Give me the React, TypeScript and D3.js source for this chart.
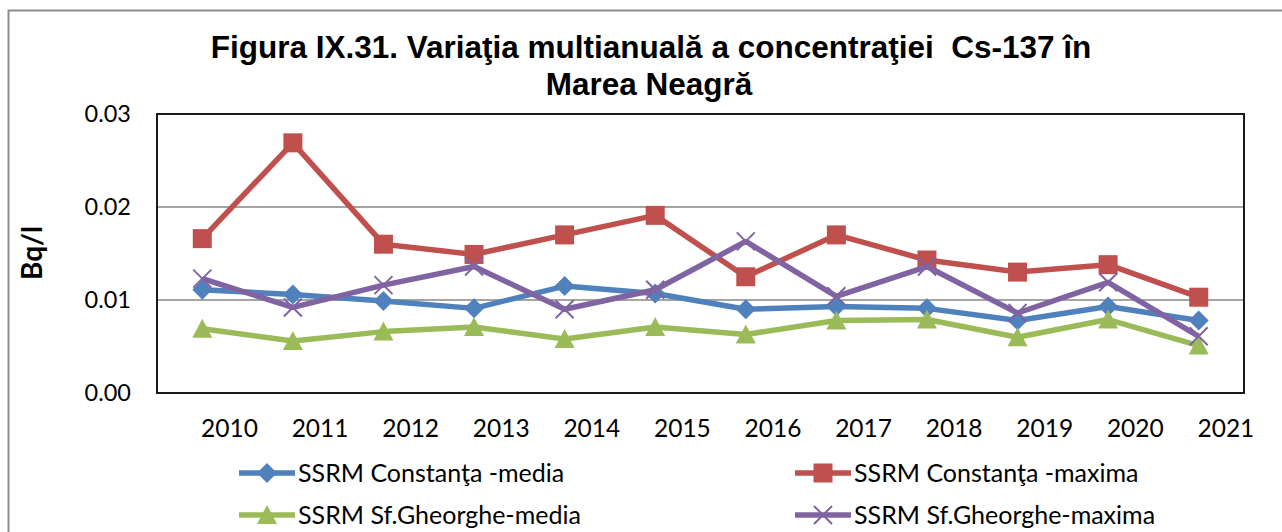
import React, { useRef, useEffect } from 'react';
import * as d3 from 'd3';

// ── Data ──────────────────────────────────────────────────────────────────────
const YEARS = ['2010', '2011', '2012', '2013', '2014', '2015', '2016', '2017', '2018', '2019', '2020', '2021'];

const constantaMedia = [0.0111, 0.0106, 0.0099, 0.0091, 0.0115, 0.0107, 0.0090, 0.0093, 0.0091, 0.0078, 0.0093, 0.0078];
const constantaMaxima = [0.0166, 0.0269, 0.0160, 0.0149, 0.0170, 0.0191, 0.0125, 0.0170, 0.0143, 0.0130, 0.0138, 0.0103];
const sfGheorgheMedia = [0.0069, 0.0056, 0.0066, 0.0071, 0.0058, 0.0071, 0.0063, 0.0078, 0.0079, 0.0060, 0.0079, 0.0051];
const sfGheorgheMaxima = [0.0123, 0.0092, 0.0116, 0.0136, 0.0090, 0.0111, 0.0163, 0.0104, 0.0136, 0.0086, 0.0119, 0.0061];

const Y_TICKS = [0, 0.01, 0.02, 0.03];

type Marker = 'diamond' | 'square' | 'triangle' | 'x';

interface Series {
  name: string;
  values: number[];
  color: string;
  marker: Marker;
}

const SERIES: Series[] = [
  { name: 'SSRM Constanţa -media', values: constantaMedia, color: '#4F81BD', marker: 'diamond' },
  { name: 'SSRM Constanţa -maxima', values: constantaMaxima, color: '#C0504D', marker: 'square' },
  { name: 'SSRM Sf.Gheorghe-media', values: sfGheorgheMedia, color: '#9BBB59', marker: 'triangle' },
  { name: 'SSRM Sf.Gheorghe-maxima', values: sfGheorgheMaxima, color: '#8064A2', marker: 'x' },
];

const TITLE = ['Figura IX.31. Variaţia multianuală a concentraţiei  Cs-137 în', 'Marea Neagră'];

// draw one marker centred on (x, y)
function drawMarker(g: d3.Selection<SVGGElement, unknown, null, undefined>, kind: Marker, x: number, y: number, color: string) {
  if (kind === 'diamond') {
    g.append('path').attr('d', `M${x},${y - 10}L${x + 10},${y}L${x},${y + 10}L${x - 10},${y}Z`).attr('fill', color);
  } else if (kind === 'square') {
    g.append('rect').attr('x', x - 9.5).attr('y', y - 9.5).attr('width', 19).attr('height', 19).attr('fill', color);
  } else if (kind === 'triangle') {
    g.append('path').attr('d', `M${x},${y - 10}L${x + 10},${y + 9}L${x - 10},${y + 9}Z`).attr('fill', color);
  } else {
    g.append('path').attr('d', `M${x - 9},${y - 9}L${x + 9},${y + 9}M${x - 9},${y + 9}L${x + 9},${y - 9}`)
      .attr('stroke', color).attr('stroke-width', 2).attr('fill', 'none');
  }
}

export default function App() {
  const svgRef = useRef<SVGSVGElement>(null);

  useEffect(() => {
    if (!svgRef.current) return;
    const W = 1282, H = 532;
    const plot = { left: 157, right: 1244, top: 114, bottom: 393 };

    const svg = d3.select(svgRef.current);
    svg.selectAll('*').remove();
    svg.attr('width', W).attr('height', H);

    // chart frame (continues past the picture edge)
    svg.append('rect').attr('x', 8.5).attr('y', 10.5).attr('width', 1400).attr('height', 600)
      .attr('fill', '#fff').attr('stroke', '#8C8C8C').attr('stroke-width', 2);

    // ── Title ───────────────────────────────────────────────────────────────
    const title = svg.append('text').attr('text-anchor', 'middle')
      .attr('font-family', '"Liberation Sans", Arial, sans-serif').attr('font-weight', 700)
      .attr('font-size', 31.5).attr('fill', '#000');
    title.append('tspan').attr('x', 651).attr('y', 58).style('white-space', 'pre').text(TITLE[0]);
    title.append('tspan').attr('x', 649).attr('y', 95).text(TITLE[1]);

    // ── Scales ──────────────────────────────────────────────────────────────
    const x = d3.scaleBand().domain(YEARS).range([plot.left, plot.right]);
    const px = (d: string) => (x(d) ?? 0) + x.bandwidth() / 2;
    const y = d3.scaleLinear().domain([0, 0.03]).range([plot.bottom, plot.top]);

    // gridlines
    svg.append('g').selectAll('line').data(Y_TICKS.slice(1, 3)).join('line')
      .attr('x1', plot.left).attr('x2', plot.right)
      .attr('y1', d => y(d)).attr('y2', d => y(d))
      .attr('stroke', '#868686').attr('stroke-width', 1.5);

    // plot border
    svg.append('rect').attr('x', plot.left).attr('y', plot.top)
      .attr('width', plot.right - plot.left).attr('height', plot.bottom - plot.top)
      .attr('fill', 'none').attr('stroke', '#1a1a1a').attr('stroke-width', 2);

    // ── Axes ────────────────────────────────────────────────────────────────
    const tickFont = 'Lato, "Open Sans", sans-serif';
    svg.append('g').attr('transform', `translate(${plot.left},0)`)
      .call(d3.axisLeft(y).tickValues(Y_TICKS).tickFormat(d3.format('.2f')).tickSize(0).tickPadding(26))
      .call(ax => ax.select('.domain').remove())
      .call(ax => ax.selectAll('text').attr('font-family', tickFont).attr('font-size', 23.5).attr('fill', '#000'));

    svg.append('g').attr('transform', `translate(${x.bandwidth() * 0.3},${plot.bottom})`)
      .call(d3.axisBottom(x).tickSize(0).tickPadding(27))
      .call(ax => ax.select('.domain').remove())
      .call(ax => ax.selectAll('text').attr('font-family', tickFont).attr('font-size', 24.5).attr('fill', '#000'));

    svg.append('text')
      .attr('transform', `translate(42,253) rotate(-90)`).attr('text-anchor', 'middle')
      .attr('font-family', 'Lato, sans-serif').attr('font-weight', 700).attr('font-size', 28)
      .text('Bq/l');

    // ── Lines & markers ────────────────────────────────────────────────────
    const line = d3.line<number>().x((_, i) => px(YEARS[i])).y(d => y(d));
    SERIES.forEach(s => {
      const g = svg.append('g');
      g.append('path').attr('d', line(s.values)).attr('fill', 'none')
        .attr('stroke', s.color).attr('stroke-width', 5.5).attr('stroke-linejoin', 'round');
      s.values.forEach((v, i) => drawMarker(g, s.marker, px(YEARS[i]), y(v), s.color));
    });

    // ── Legend ──────────────────────────────────────────────────────────────
    const legendPos = [[239, 473], [795, 473], [239, 515], [795, 515]];
    SERIES.forEach((s, i) => {
      const [lx, ly] = legendPos[i];
      const g = svg.append('g');
      g.append('line').attr('x1', lx).attr('x2', lx + 56).attr('y1', ly).attr('y2', ly)
        .attr('stroke', s.color).attr('stroke-width', 5.5);
      drawMarker(g, s.marker, lx + 28, ly, s.color);
      g.append('text').attr('x', lx + 59).attr('y', ly).attr('dy', '0.35em')
        .attr('font-family', tickFont).attr('font-size', 25).attr('fill', '#000').text(s.name);
    });
  }, []);

  return (
    <div style={{ position: 'absolute', left: 0, top: 0 }}>
      <svg ref={svgRef} style={{ display: 'block' }} />
    </div>
  );
}
